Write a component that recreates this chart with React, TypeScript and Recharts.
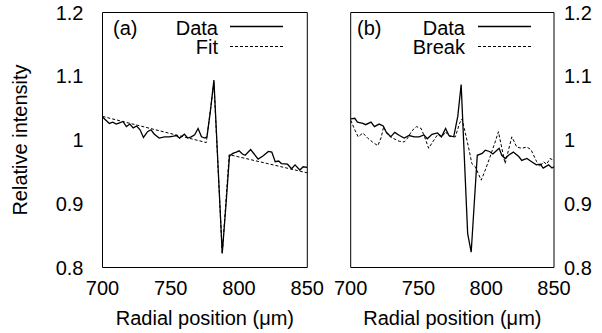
import { LineChart, Line, XAxis, YAxis, Legend } from 'recharts';

const RADIAL_TICKS = [700, 750, 800, 850];
const INTENSITY_TICKS = [0.8, 0.9, 1, 1.1, 1.2];

// panel (a): measured profile and fitted step
const dataAx = [700, 702.5, 705, 707.5, 710, 712.5, 715, 717.5, 720, 722.5, 725, 727.5, 730, 733, 735.5, 738, 741.5, 745.5, 749, 752, 754, 756.5, 760, 762.5, 765, 767.5, 770, 772.5, 775, 776.5, 779, 781.6, 787.7, 790.5, 793, 795.5, 798, 800, 802.5, 804.5, 808.5, 814, 817.5, 821.5, 824, 826.5, 829, 831, 835.5, 838.5, 841, 844.5, 847, 850];
const dataAy = [1.036, 1.031, 1.026, 1.028, 1.025, 1.027, 1.029, 1.021, 1.025, 1.019, 1.022, 1.016, 1.004, 1.013, 1.016, 1.009, 1.003, 1.005, 1.005, 1.006, 1.007, 1.003, 1.009, 1.003, 1.005, 1.008, 1.018, 1.005, 1.003, 1.005, 1.045, 1.094, 0.822, 0.9, 0.975, 0.979, 0.981, 0.983, 0.978, 0.976, 0.985, 0.97, 0.975, 0.982, 0.981, 0.966, 0.967, 0.963, 0.962, 0.955, 0.961, 0.953, 0.958, 0.957];
const fitAx = [700, 776, 781.6, 787.7, 792.8, 850];
const fitAy = [1.037, 0.996, 1.09, 0.822, 0.977, 0.9485];

// panel (b): measured profile and break model
const dataBx = [700, 703, 705, 709, 711, 715, 717.5, 721, 724, 726, 729.5, 732.5, 736, 739.5, 743, 747, 750.5, 754, 756.5, 760, 764, 767, 770, 772.5, 776, 779, 781.5, 786.3, 788.9, 793.4, 797, 799.3, 802.4, 804.9, 807.9, 809.5, 811.5, 814, 816.4, 820, 824, 826.2, 830, 833.5, 837, 840, 842, 846, 848.5, 850];
const dataBy = [1.033, 1.034, 1.028, 1.026, 1.024, 1.028, 1.021, 1.025, 1.022, 1.013, 1.005, 1.012, 1.007, 1.003, 1.007, 1.005, 1.005, 1.008, 1.002, 1.009, 1.011, 1.005, 1.018, 1.007, 1.005, 1.037, 1.087, 0.853, 0.824, 0.976, 0.979, 0.984, 0.982, 0.978, 0.984, 0.987, 0.976, 0.971, 0.976, 0.981, 0.974, 0.968, 0.971, 0.966, 0.961, 0.962, 0.956, 0.961, 0.956, 0.958];
const breakBx = [700, 703, 705.5, 709, 712.5, 716, 720, 722.5, 724.3, 727, 731, 735.8, 739.5, 742, 745, 748.5, 752, 754.5, 757.5, 760.5, 764, 767.5, 770, 772.5, 777.2, 780.3, 782.1, 783.8, 786.9, 789.4, 791.9, 796.3, 799.3, 802.4, 806.6, 809, 813.9, 818.9, 822.5, 826.2, 829.9, 833, 837.2, 839.7, 842.1, 844.6, 847, 850];
const breakBy = [1.031, 1.016, 1.005, 1.011, 1.003, 0.997, 0.991, 1.004, 1.021, 1.009, 1.003, 0.998, 0.997, 1.003, 1.014, 1.021, 1.018, 1.005, 0.987, 0.997, 1.008, 1.005, 1.013, 1.006, 1.005, 1.026, 1.033, 1.018, 0.989, 0.963, 0.958, 0.937, 0.953, 0.971, 0.997, 1.013, 0.963, 1.005, 0.989, 0.987, 0.989, 0.985, 0.966, 0.958, 0.966, 0.962, 0.971, 0.968];

const toPoints = (xs: number[], ys: number[]) => xs.map((x, i) => ({ x, y: ys[i] }));

const FONT = '"Liberation Sans", Arial, Helvetica, sans-serif';
const FS = 20;
const TICK = { fill: '#000', fontSize: FS };
const H = 333;
const X_DOMAIN: [number, number] = [700, 850];
const Y_DOMAIN: [number, number] = [0.8, 1.2];
const fmt = (v: number) => String(v);

type Series = { name: string; xs: number[]; ys: number[]; dash?: string };

function legendContent(tag: string, order: string[], tagX: number, textRight: number, lineFrom: number, lineTo: number) {
  return (props: any) => {
    const items = [...(props.payload ?? [])].sort((a: any, b: any) => order.indexOf(a.value) - order.indexOf(b.value));
    return (
      <svg width={textRight + 80} height={60} style={{ display: 'block', overflow: 'visible', fontFamily: FONT, fontSize: FS }}>
        <text x={tagX} y={34.7}>{tag}</text>
        {items.map((it: any, i: number) => (
          <g key={i}>
            <text x={textRight} y={34.7 + i * 19.5} textAnchor="end">{it.value}</text>
            <line x1={lineFrom} x2={lineTo} y1={26.5 + i * 20} y2={26.5 + i * 20}
              stroke="#000" strokeWidth={it.payload?.strokeDasharray ? 1 : 1.3}
              strokeDasharray={it.payload?.strokeDasharray} />
          </g>
        ))}
      </svg>
    );
  };
}

function Panel({ width, marginLeft, marginRight, labelsRight, yTitle, tag, tagX, textRight, lineFrom, lineTo, series }: {
  width: number; marginLeft: number; marginRight: number; labelsRight: boolean; yTitle?: string;
  tag: string; tagX: number; textRight: number; lineFrom: number; lineTo: number; series: Series[];
}) {
  return (
    <LineChart width={width} height={H} margin={{ top: 12.5, right: marginRight, bottom: 0, left: marginLeft }}>
      {/* tick labels + axis title */}
      <XAxis type="number" dataKey="x" domain={X_DOMAIN} ticks={RADIAL_TICKS} allowDataOverflow
        height={65.5} tickLine={false} axisLine={false} tickSize={0} tickMargin={13} tick={TICK}
        label={{ value: 'Radial position (μm)', position: 'insideBottom', offset: 8, fill: '#000', fontSize: FS }} />
      {/* frame with inward ticks */}
      <XAxis xAxisId="bf" mirror orientation="bottom" type="number" dataKey="x" domain={X_DOMAIN} ticks={RADIAL_TICKS}
        allowDataOverflow height={10} stroke="#000" tickSize={4} tick={false} />
      <XAxis xAxisId="tf" mirror orientation="top" type="number" dataKey="x" domain={X_DOMAIN} ticks={RADIAL_TICKS}
        allowDataOverflow height={10} stroke="#000" tickSize={4} tick={false} />
      {labelsRight ? (
        <YAxis orientation="right" type="number" domain={Y_DOMAIN} ticks={INTENSITY_TICKS} allowDataOverflow
          width={48} tickLine={false} axisLine={false} tickSize={0} tickMargin={10} tick={TICK} tickFormatter={fmt} />
      ) : (
        <YAxis type="number" domain={Y_DOMAIN} ticks={INTENSITY_TICKS} allowDataOverflow width={102.5}
          tickLine={false} axisLine={false} tickSize={0} tickMargin={19} tick={TICK} tickFormatter={fmt}
          label={yTitle ? { value: yTitle, angle: -90, position: 'insideLeft', offset: 20, fill: '#000', fontSize: FS, style: { textAnchor: 'middle' } } : undefined} />
      )}
      <YAxis yAxisId="lf" mirror type="number" domain={Y_DOMAIN} ticks={INTENSITY_TICKS} allowDataOverflow width={10}
        stroke="#000" tickSize={4} tick={false} />
      <YAxis yAxisId="rf" mirror orientation="right" type="number" domain={Y_DOMAIN} ticks={INTENSITY_TICKS}
        allowDataOverflow width={10} stroke="#000" tickSize={4} tick={false} />
      <Legend layout="vertical" align="center" verticalAlign="middle"
        wrapperStyle={{ left: 0, top: 0, width, height: 60 }}
        content={legendContent(tag, series.map((s) => s.name), tagX, textRight, lineFrom, lineTo)} />
      {series.map((s) => (
        <Line key={s.name} data={toPoints(s.xs, s.ys)} dataKey="y" name={s.name} stroke="#000"
          strokeWidth={s.dash ? 1 : 1.3} strokeDasharray={s.dash} dot={false} isAnimationActive={false} />
      ))}
    </LineChart>
  );
}

export default function App() {
  return (
    <div style={{ position: 'absolute', left: 0, top: 0, width: 602, height: H, background: '#fff', fontFamily: FONT }}>
      <div style={{ position: 'absolute', left: 0, top: 0 }}>
        <Panel width={330} marginLeft={0} marginRight={22.7} labelsRight={false} yTitle="Relative intensity"
          tag="(a)" tagX={113} textRight={218} lineFrom={230} lineTo={283}
          series={[
            { name: 'Data', xs: dataAx, ys: dataAy },
            { name: 'Fit', xs: fitAx, ys: fitAy, dash: '3 2' },
          ]} />
      </div>
      <div style={{ position: 'absolute', left: 330, top: 0 }}>
        <Panel width={272} marginLeft={20.7} marginRight={0} labelsRight
          tag="(b)" tagX={27} textRight={135} lineFrom={148} lineTo={201}
          series={[
            { name: 'Data', xs: dataBx, ys: dataBy },
            { name: 'Break', xs: breakBx, ys: breakBy, dash: '3 2' },
          ]} />
      </div>
    </div>
  );
}
